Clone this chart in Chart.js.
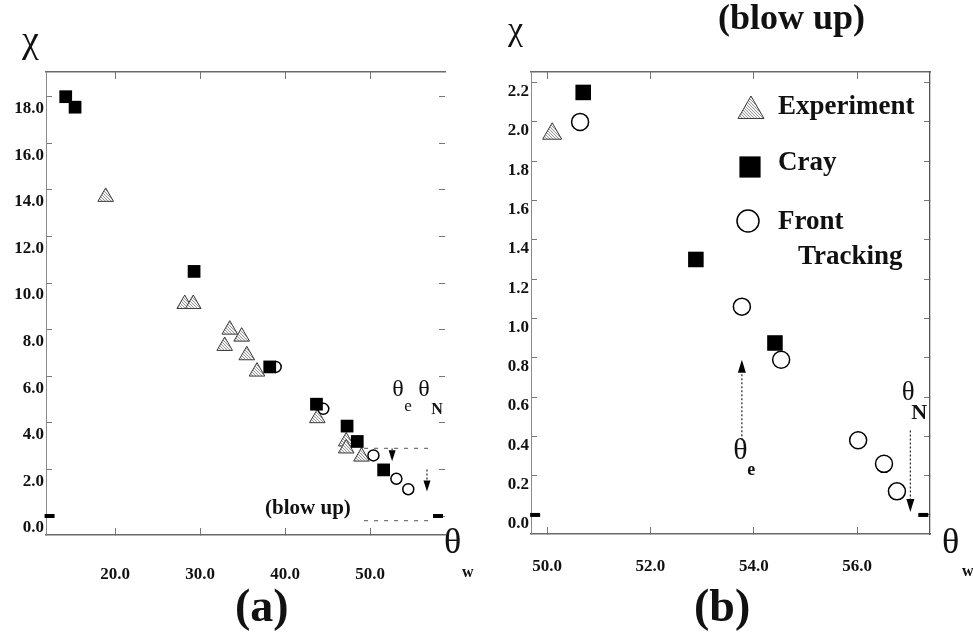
<!DOCTYPE html>
<html>
<head>
<meta charset="utf-8">
<script src="https://cdn.jsdelivr.net/npm/chart.js@4.4.1/dist/chart.umd.min.js"></script>
<style>
  html, body { margin: 0; padding: 0; background: #fff; }
  body { width: 973px; height: 643px; position: relative; overflow: hidden;
         font-family: "Liberation Serif", "DejaVu Serif", serif; color: #111; }
  canvas { position: absolute; top: 0; }
  #chartA { left: 0; }
  #chartB { left: 480px; }
  .txt { position: absolute; line-height: 1; white-space: nowrap; }
  .b { font-weight: bold; }
</style>
</head>
<body>
<canvas id="chartA" width="480" height="643"></canvas>
<canvas id="chartB" width="493" height="643"></canvas>

<div class="txt" style="left:22px;top:20px;font-size:38px">χ</div>
<div class="txt" style="left:508px;top:12px;font-size:34px">χ</div>
<div class="txt b" style="left:718px;top:-1px;font-size:36px">(blow up)</div>
<div class="txt" style="left:444px;top:523px;font-size:36px">θ</div>
<div class="txt b" style="left:462px;top:564px;font-size:16px">w</div>
<div class="txt" style="left:942px;top:523px;font-size:36px">θ</div>
<div class="txt b" style="left:962px;top:563px;font-size:16px">w</div>
<div class="txt b" style="left:235px;top:583px;font-size:46px">(a)</div>
<div class="txt b" style="left:694px;top:583px;font-size:46px">(b)</div>

<script>
// --- values ---
// panel (a): full range
const aExpX   = [18.9, 28.2, 29.2, 33.5, 34.9, 32.9, 35.5, 36.7, 43.8, 47.2, 47.2, 49.0];
const aExpY   = [13.7, 9.1, 9.1, 8.0, 7.7, 7.3, 6.9, 6.2, 4.2, 3.2, 2.9, 2.55];
const aCrayX  = [14.2, 15.3, 29.3, 38.2, 43.7, 47.3, 48.5, 51.6];
const aCrayY  = [18.0, 17.55, 10.5, 6.4, 4.8, 3.86, 3.2, 1.98];
const aFrontX = [38.9, 44.5, 50.4, 53.1, 54.5];
const aFrontY = [6.4, 4.6, 2.6, 1.6, 1.15];
const aEndX   = [12.3, 58.0];
const aEndY   = [0, 0];
const aXTicks = [20, 30, 40, 50];
const aYTicks = [0, 2, 4, 6, 8, 10, 12, 14, 16, 18];
const aBoxX   = [49.3, 57.3];      // dashed "blow up" window
const aBoxY   = [-0.2, 2.9];
const aArrowX    = [52.6, 56.7];   // theta_e, theta_N markers
const aArrowFrom = [2.9, 2.0];
const aArrowTo   = [2.35, 1.05];

// panel (b): blow up
const bExpX   = [50.1];
const bExpY   = [1.94];
const bCrayX  = [50.7, 52.88, 54.41];
const bCrayY  = [2.15, 1.30, 0.875];
const bFrontX = [50.64, 53.77, 54.53, 56.02, 56.52, 56.77];
const bFrontY = [2.0, 1.06, 0.79, 0.38, 0.26, 0.12];
const bEndX   = [49.77, 57.28];
const bEndY   = [0, 0];
const bXTicks = [50, 52, 54, 56];
const bYTicks = [0, 0.2, 0.4, 0.6, 0.8, 1.0, 1.2, 1.4, 1.6, 1.8, 2.0, 2.2];
const bArrowX    = [53.77, 57.03];
const bArrowFrom = [0.38, 0.43];
const bArrowTo   = [0.79, 0.015];
// --- end of values ---

const serif = '"Liberation Serif", "Times New Roman", serif';
const tickFont = { family: serif, size: 17, weight: 'bold' };

function hatch() {
    const c = document.createElement('canvas');
    c.width = 3; c.height = 3;
    const g = c.getContext('2d');
    g.fillStyle = '#f4f4f4'; g.fillRect(0, 0, 3, 3);
    g.fillStyle = '#9a9a9a';
    g.fillRect(0, 0, 1, 1); g.fillRect(1, 1, 1, 1); g.fillRect(2, 2, 1, 1);
    return g.createPattern(c, 'repeat');
}
const hatchFill = hatch();

const pts = (xs, ys) => xs.map((x, i) => ({ x, y: ys[i] }));
const expStyle = r => ({ pointStyle: 'triangle', pointRadius: r, pointBackgroundColor: hatchFill, pointBorderColor: '#3a3a3a', pointBorderWidth: 1 });
const crayStyle = r => ({ pointStyle: 'rect', pointRadius: r, pointBackgroundColor: '#000', pointBorderColor: '#000', pointBorderWidth: 0 });
const frontStyle = r => ({ pointStyle: 'circle', pointRadius: r, pointBackgroundColor: '#fff', pointBorderColor: '#000', pointBorderWidth: 1.5 });
const endStyle = { pointStyle: 'line', pointRadius: 5, pointBorderColor: '#000', pointBorderWidth: 4 };

function axes(c) {
    const setTicks = list => s => { s.ticks = list.map(v => ({ value: v })); };
    const tickGrid = { display: true, drawOnChartArea: false, drawTicks: true, tickLength: -7, color: '#777', lineWidth: 1 };
    const solid = { display: true, color: '#6a6a6a', width: 1.5 };
    return {
        x: {
            type: 'linear', position: 'bottom', min: c.xMin, max: c.xMax,
            afterBuildTicks: setTicks(c.xTicks), afterFit: s => { s.height = c.xHeight; },
            grid: tickGrid, border: solid,
            ticks: { font: tickFont, color: '#111', padding: c.xPad, maxRotation: 0, autoSkip: false, callback: v => v.toFixed(1) }
        },
        x2: {
            type: 'linear', position: 'top', min: c.xMin, max: c.xMax,
            afterBuildTicks: setTicks(c.xTicks), afterFit: s => { s.height = 0; },
            grid: tickGrid, border: solid, ticks: { display: false }
        },
        y: {
            type: 'linear', position: 'left', min: c.yMin, max: c.yMax,
            afterBuildTicks: setTicks(c.yTicks), afterFit: s => { s.width = c.yWidth; },
            grid: { ...tickGrid, tickLength: -6 },
            border: { display: true, color: '#8a8a8a', width: 1, dash: [2, 2] },
            ticks: { font: tickFont, color: '#111', padding: c.yPad, labelOffset: c.yOffset, autoSkip: false, callback: v => v.toFixed(1) }
        },
        y2: {
            type: 'linear', position: 'right', min: c.yMin, max: c.yMax,
            afterBuildTicks: setTicks(c.yTicks), afterFit: s => { s.width = 0; },
            grid: { ...tickGrid, tickLength: -6 },
            border: { display: c.rightBorder, color: '#555', width: 1.3 },
            ticks: { display: false }
        }
    };
}

function arrow(ctx, px, y0, y1, w, len) {
    const dir = y1 > y0 ? 1 : -1;
    ctx.save();
    ctx.strokeStyle = '#222';
    ctx.lineWidth = 1.2;
    ctx.setLineDash([2, 2]);
    ctx.beginPath();
    ctx.moveTo(px, y0);
    ctx.lineTo(px, y1 - dir * len);
    ctx.stroke();
    ctx.setLineDash([]);
    ctx.fillStyle = '#000';
    ctx.beginPath();
    ctx.moveTo(px, y1);
    ctx.lineTo(px - w / 2, y1 - dir * len);
    ctx.lineTo(px + w / 2, y1 - dir * len);
    ctx.closePath();
    ctx.fill();
    ctx.restore();
}

function text(ctx, s, px, py, font) {
    ctx.font = font;
    ctx.fillStyle = '#111';
    ctx.textAlign = 'center';
    ctx.textBaseline = 'middle';
    ctx.fillText(s, px, py);
}

const notesA = {
    id: 'notesA',
    afterDatasetsDraw(chart) {
        const { ctx, scales: { x, y } } = chart;
        ctx.save();
        ctx.strokeStyle = '#777';
        ctx.lineWidth = 1.2;
        ctx.setLineDash([4, 6]);
        ctx.beginPath();
        ctx.moveTo(x.getPixelForValue(aBoxX[0]), y.getPixelForValue(aBoxY[1]));
        ctx.lineTo(x.getPixelForValue(aBoxX[1]), y.getPixelForValue(aBoxY[1]));
        ctx.moveTo(x.getPixelForValue(aBoxX[0]), y.getPixelForValue(aBoxY[0]));
        ctx.lineTo(x.getPixelForValue(aBoxX[1]), y.getPixelForValue(aBoxY[0]));
        ctx.stroke();
        ctx.setLineDash([]);
        aArrowX.forEach((v, i) => arrow(ctx, x.getPixelForValue(v), y.getPixelForValue(aArrowFrom[i]), y.getPixelForValue(aArrowTo[i]), 7, 11));
        text(ctx, '(blow up)', x.getPixelForValue(42.7), y.getPixelForValue(0.3), 'bold 21px ' + serif);
        const ty = y.getPixelForValue(5.41);
        const e = x.getPixelForValue(53.3), n = x.getPixelForValue(56.35);
        text(ctx, 'θ', e, ty, '24px ' + serif);
        text(ctx, 'e', e + 10, ty + 17, '17px ' + serif);
        text(ctx, 'θ', n, ty, '24px ' + serif);
        text(ctx, 'N', n + 13, ty + 20, 'bold 16px ' + serif);
        ctx.restore();
    }
};

const notesB = {
    id: 'notesB',
    afterDatasetsDraw(chart) {
        const { ctx, scales: { x, y } } = chart;
        ctx.save();
        bArrowX.forEach((v, i) => arrow(ctx, x.getPixelForValue(v), y.getPixelForValue(bArrowFrom[i]), y.getPixelForValue(bArrowTo[i]), 8, 13));
        const ex = x.getPixelForValue(53.74), ey = y.getPixelForValue(0.323);
        text(ctx, 'θ', ex, ey, '30px ' + serif);
        text(ctx, 'e', ex + 11, ey + 19, 'bold 18px ' + serif);
        const nx = x.getPixelForValue(56.99), ny = y.getPixelForValue(0.623);
        text(ctx, 'θ', nx, ny, '27px ' + serif);
        text(ctx, 'N', nx + 11, ny + 21, 'bold 22px ' + serif);

        // legend, drawn with the datasets' own point styles
        const items = [
            { ds: 2, r: 15, px: 271, py: 111, lines: ['Experiment'], base: 114 },
            { ds: 0, r: 15, px: 270, py: 167, lines: ['Cray'], base: 170 },
            { ds: 1, r: 11, px: 268, py: 221, lines: ['Front', 'Tracking'], base: 229 }
        ];
        items.forEach(it => {
            const d = chart.data.datasets[it.ds];
            ctx.fillStyle = d.pointBackgroundColor;
            ctx.strokeStyle = d.pointBorderColor;
            ctx.lineWidth = d.pointBorderWidth;
            Chart.helpers.drawPoint(ctx, { pointStyle: d.pointStyle, radius: it.r, borderWidth: d.pointBorderWidth, rotation: 0 }, it.px, it.py);
            ctx.font = 'bold 27px ' + serif;
            ctx.fillStyle = '#111';
            ctx.textAlign = 'left';
            ctx.textBaseline = 'alphabetic';
            ctx.fillText(it.lines[0], 298, it.base);
            if (it.lines[1]) ctx.fillText(it.lines[1], 318, it.base + 35);
        });
        ctx.restore();
    }
};

function makeChart(id, datasets, scales, padRight, plugin) {
    return new Chart(document.getElementById(id), {
        type: 'scatter',
        data: { datasets },
        options: {
            responsive: false, animation: false, devicePixelRatio: 1, events: [],
            layout: { padding: { left: 0, top: 72, right: padRight, bottom: 0 } },
            plugins: { legend: { display: false }, tooltip: { enabled: false } },
            scales
        },
        plugins: [plugin]
    });
}

makeChart('chartA', [
    { label: 'Cray', data: pts(aCrayX, aCrayY), ...crayStyle(9), clip: false },
    { label: 'Front Tracking', data: pts(aFrontX, aFrontY), ...frontStyle(5.5), clip: false },
    { label: 'Experiment', data: pts(aExpX, aExpY), ...expStyle(9), clip: false },
    { label: 'ends', data: pts(aEndX, aEndY), ...endStyle, clip: false }
], axes({
    xMin: 11.88, xMax: 58.82, yMin: -0.815, yMax: 19.06, xTicks: aXTicks, yTicks: aYTicks,
    xHeight: 108, yWidth: 46, xPad: 36, yPad: 8, yOffset: 12, rightBorder: false
}), 35, notesA);

makeChart('chartB', [
    { label: 'Cray', data: pts(bCrayX, bCrayY), ...crayStyle(11), clip: false },
    { label: 'Front Tracking', data: pts(bFrontX, bFrontY), ...frontStyle(8.5), clip: false },
    { label: 'Experiment', data: pts(bExpX, bExpY), ...expStyle(11), clip: false },
    { label: 'ends', data: pts(bEndX, bEndY), ...endStyle, clip: false }
], axes({
    xMin: 49.69, xMax: 57.41, yMin: -0.097, yMax: 2.254, xTicks: bXTicks, yTicks: bYTicks,
    xHeight: 109, yWidth: 51, xPad: 29, yPad: 8, yOffset: 9, rightBorder: true
}), 43, notesB);
</script>
</body>
</html>
